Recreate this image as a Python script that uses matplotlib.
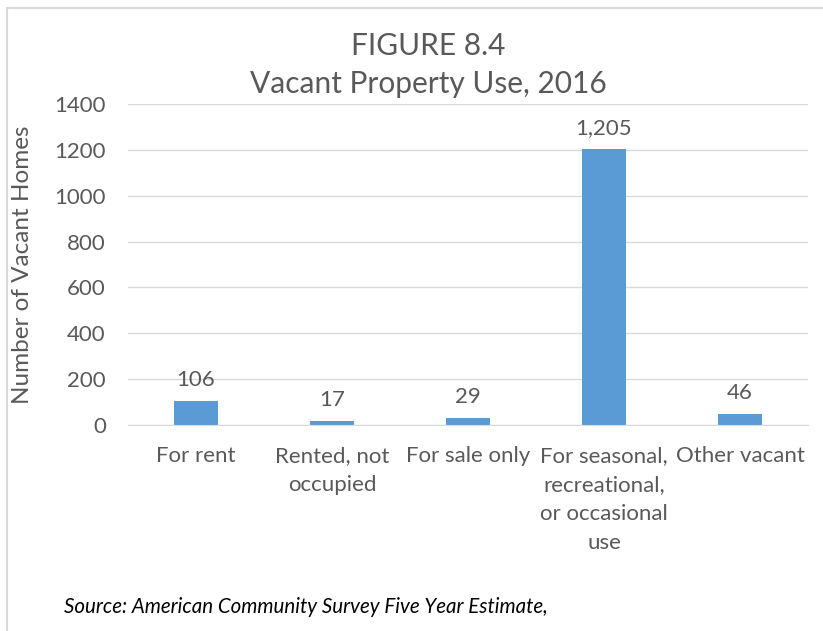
import matplotlib
matplotlib.use('Agg')
import matplotlib.pyplot as plt
from matplotlib.patches import Rectangle
import numpy as np

# data
categories = ['For rent', 'Rented, not\noccupied', 'For sale only',
              'For seasonal,\nrecreational,\nor occasional\nuse', 'Other vacant']
vacant_homes = [106, 17, 29, 1205, 46]
y_ticks = [0, 200, 400, 600, 800, 1000, 1200, 1400]

plt.rcParams['font.family'] = ['Lato', 'DejaVu Sans']
txt = '#595959'
grid = '#D9D9D9'

fig = plt.figure(figsize=(8.23, 6.31), dpi=100)
ax = fig.add_axes([128/823, 1-425/631, 680/823, 321/631])

x = np.arange(len(categories))
bars = ax.bar(x, vacant_homes, width=0.32, color='#5B9BD5', zorder=3)
ax.bar_label(bars, labels=['{:,}'.format(v) for v in vacant_homes],
             padding=8, fontsize=16, color=txt)

ax.set_xlim(-0.5, len(categories) - 0.5)
ax.set_ylim(0, 1400)
ax.set_yticks(y_ticks)
ax.set_xticks(x)
ax.set_xticklabels(categories, linespacing=1.57)
ax.tick_params(axis='both', length=0, labelsize=16, labelcolor=txt)
ax.tick_params(axis='x', pad=15)
ax.tick_params(axis='y', pad=16)
ax.grid(axis='y', color=grid, lw=1, zorder=0)
for s in ['top', 'right', 'left']:
    ax.spines[s].set_visible(False)
ax.spines['bottom'].set_color(grid)
ax.spines['bottom'].set_zorder(4)

ax.set_ylabel('Number of Vacant Homes', fontsize=17.5, color=txt)
ax.yaxis.set_label_coords(-(128 - 33) / 680, 0.5)

fig.text(428/823, 1-46/631, 'FIGURE 8.4', ha='center', va='center', fontsize=21.5, color=txt)
fig.text(428/823, 1-84/631, 'Vacant Property Use, 2016', ha='center', va='center', fontsize=21.5, color=txt)

fig.text(64/823, 1-607/631, 'Source: American Community Survey Five Year Estimate,',
         ha='left', va='center', fontsize=14.8, style='italic', color='black')

fig.patches.append(Rectangle((7.5/823, -0.1), 1.1, 1.1 - 8/631, transform=fig.transFigure,
                             fill=False, edgecolor=grid, lw=1.5))

plt.savefig('out.png', dpi=100)
